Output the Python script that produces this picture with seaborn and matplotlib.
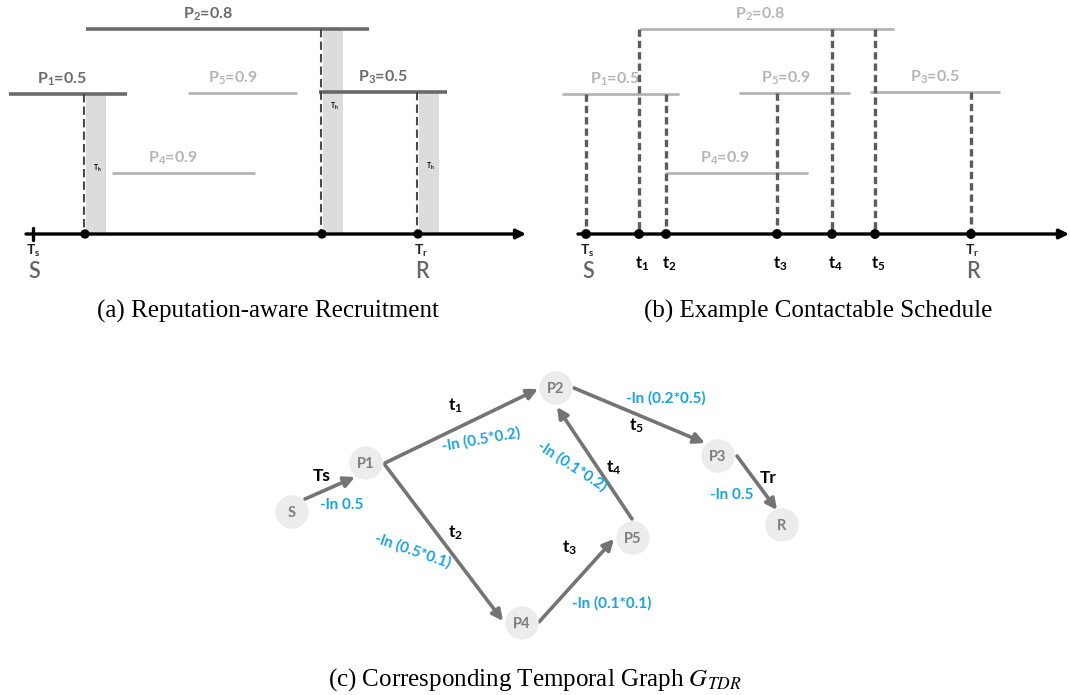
import matplotlib
matplotlib.use("Agg")
import matplotlib.pyplot as plt
import seaborn as sns
import pandas as pd

sns.set_theme(style="white")
plt.rcParams["font.family"] = ["Lato", "DejaVu Sans"]
plt.rcParams["mathtext.fontset"] = "custom"
plt.rcParams["mathtext.rm"] = "Lato:bold"
plt.rcParams["mathtext.bf"] = "Lato:bold"
plt.rcParams["mathtext.it"] = "Lato:bold:italic"
plt.rcParams["mathtext.default"] = "rm"

# ---------------- data ----------------
# (a) reputation-aware recruitment: participant availability intervals
a_labels = ["P$_1$=0.5", "P$_2$=0.8", "P$_3$=0.5", "P$_4$=0.9", "P$_5$=0.9"]
a_start = [9, 86, 319, 112, 188]
a_end = [127, 369, 447, 255, 297]
a_level = [94, 29, 92, 173, 93]
a_selected = [True, True, True, False, False]
a_label_x = [62, 208, 383, 173, 233]
# contact events on the timeline and the interval they hang from
a_events = [85, 322, 418]
a_event_top = [94, 29, 92]

# (b) contactable schedule
b_labels = ["P$_1$=0.5", "P$_2$=0.8", "P$_3$=0.5", "P$_4$=0.9", "P$_5$=0.9"]
b_start = [563, 641, 871, 666, 740]
b_end = [678, 893, 999, 807, 849]
b_level = [94, 29, 92, 173, 93]
b_label_x = [615, 760, 935, 725, 786]
b_events = [586, 639, 666, 777, 832, 875, 971]
b_event_top = [94, 29, 94, 93, 29, 29, 92]
b_event_names = ["", "t$_1$", "t$_2$", "t$_3$", "t$_4$", "t$_5$", ""]

# (c) temporal graph
node_names = ["S", "P1", "P2", "P3", "P4", "P5", "R"]
node_x = [292, 366, 556, 718, 522, 633, 782]
node_y = [512, 463, 388, 456, 623, 538, 525]
edge_src = ["S", "P1", "P1", "P4", "P5", "P2", "P3"]
edge_dst = ["P1", "P2", "P4", "P5", "P2", "P3", "R"]
edge_time = ["Ts", "t$_1$", "t$_2$", "t$_3$", "t$_4$", "t$_5$", "Tr"]
edge_weight = ["-ln 0.5", "-ln (0.5*0.2)", "-ln (0.5*0.1)", "-ln (0.1*0.1)",
               "-ln (0.1*0.2)", "-ln (0.2*0.5)", "-ln 0.5"]

# ---------------- drawing ----------------
fig = plt.figure(figsize=(10.7, 6.95), dpi=100)
ax = fig.add_axes([0, 0, 1, 1])
ax.set_xlim(0, 1070)
ax.set_ylim(695, 0)
ax.axis("off")

DARK = "#6a6a6a"
LIGHT = "#b5b5b5"
BLUE = "#1aa3dd"
AXIS_Y = 234


def timeline(x0, x1):
    ax.annotate("", xy=(x1, AXIS_Y), xytext=(x0, AXIS_Y),
                arrowprops=dict(arrowstyle="-|>", color="black", lw=2.4,
                                mutation_scale=14, shrinkA=0, shrinkB=0))


def end_labels(xs, xr):
    for x, sub, big in ((xs, "s", "S"), (xr, "r", "R")):
        ax.text(x, 251, "T$_\\mathrm{%s}$" % sub, fontsize=10,
                fontweight="bold", ha="center", va="center", color="#222222")
        ax.text(x + 1, 271, big, fontsize=15.5, fontweight="semibold",
                ha="center", va="center", color="#666666")


# ---- panel (a)
timeline(26, 526)
ax.plot([33, 33], [AXIS_Y - 6, AXIS_Y + 6], color="black", lw=2.4)
for ev, top in zip(a_events, a_event_top):
    ax.fill_between([ev + 1, ev + 21], top, AXIS_Y - 1, color="#dcdcdc", lw=0, zorder=1)
    ax.plot([ev - 1, ev - 1], [top, AXIS_Y], color="#4a4a4a", lw=1.5,
            ls=(0, (4, 2)), zorder=3)
    ax.text(ev + 12, top + (AXIS_Y - top) * 0.5 - 25 if top < 60 else top + 74,
            "T$_\\mathrm{h}$", fontsize=5, fontweight="bold", ha="center",
            va="center", color="black", zorder=4)
for lab, s, e, lv, sel, lx in zip(a_labels, a_start, a_end, a_level,
                                  a_selected, a_label_x):
    col = DARK if sel else LIGHT
    ax.plot([s, e], [lv, lv], color=col, lw=2.6 if sel else 2.0, zorder=2,
            solid_capstyle="butt")
    ax.text(lx, lv - 6, lab, fontsize=11.5, fontweight="bold", color=col,
            ha="center", va="bottom")
sns.scatterplot(x=a_events, y=[AXIS_Y] * len(a_events), color="black", s=45,
                edgecolor="none", ax=ax, zorder=5, legend=False)
end_labels(33, 421)

# ---- panel (b)
timeline(578, 1069)
for lab, s, e, lv, lx in zip(b_labels, b_start, b_end, b_level, b_label_x):
    ax.plot([s, e], [lv, lv], color=LIGHT, lw=2.0, zorder=2)
    ax.text(lx, lv - 6, lab, fontsize=11.5, fontweight="bold", color=LIGHT,
            ha="center", va="bottom")
for ev, top, nm in zip(b_events, b_event_top, b_event_names):
    ax.plot([ev, ev], [top, AXIS_Y], color="#5c5c5c", lw=2.4,
            ls=(0, (2.2, 1.2)), zorder=3)
    if nm:
        ax.text(ev + 3, 264, nm, fontsize=12, fontweight="bold",
                ha="center", va="center", color="black")
sns.scatterplot(x=b_events, y=[AXIS_Y] * len(b_events), color="black", s=50,
                edgecolor="none", ax=ax, zorder=5, legend=False)
end_labels(587, 972)

# ---- panel (c)
nodes = pd.DataFrame({"name": node_names, "x": node_x, "y": node_y})
sns.scatterplot(data=nodes, x="x", y="y", s=580, color="#ececec",
                edgecolor="none", ax=ax, zorder=2, legend=False)
for _, r in nodes.iterrows():
    ax.text(r.x, r.y + 1, r["name"], fontsize=10.5, fontweight="bold",
            color="#7d7d7d", ha="center", va="center", zorder=3)

edge_start = {("S", "P1"): (305, 499), ("P1", "P2"): (385, 463),
              ("P1", "P4"): (385, 465), ("P4", "P5"): (539, 622),
              ("P5", "P2"): (632, 519), ("P2", "P3"): (574, 388),
              ("P3", "R"): (737, 456)}
edge_end = {("S", "P1"): (355, 477), ("P1", "P2"): (538, 389),
            ("P1", "P4"): (503, 621), ("P4", "P5"): (614, 539),
            ("P5", "P2"): (557, 407), ("P2", "P3"): (705, 443),
            ("P3", "R"): (777, 510)}
for src, dst in zip(edge_src, edge_dst):
    ax.annotate("", xy=edge_end[(src, dst)], xytext=edge_start[(src, dst)],
                arrowprops=dict(arrowstyle="-|>", color="#747474", lw=2.6,
                                mutation_scale=16, shrinkA=0, shrinkB=0),
                zorder=1)

time_pos = [(322, 476), (455, 406), (456, 533), (570, 548), (614, 468),
            (637, 426), (768, 478)]
for t, (x, y) in zip(edge_time, time_pos):
    ax.text(x, y, t, fontsize=12.5, fontweight="bold", color="black",
            ha="center", va="center")

weight_pos = [(342, 505, 0), (481, 440, 10), (413, 551, -19),
              (612, 603, 0), (572, 466, -33), (666, 398, 0), (732, 495, 0)]
for w, (x, y, rot) in zip(edge_weight, weight_pos):
    ax.text(x, y, w, fontsize=11, fontweight="bold", color=BLUE,
            ha="center", va="center", rotation=rot, rotation_mode="anchor")

# ---- captions
cap = dict(fontsize=18, family="Liberation Serif", color="black",
           ha="center", va="center")
ax.text(268, 311, "(a) Reputation-aware Recruitment", **cap)
ax.text(818, 311, "(b) Example Contactable Schedule", **cap)
ax.text(535, 680, r"(c) Corresponding Temporal Graph $\mathit{G}_{\mathit{TDR}}$",
        math_fontfamily="stix", **cap)

fig.savefig("out.png", dpi=100)
